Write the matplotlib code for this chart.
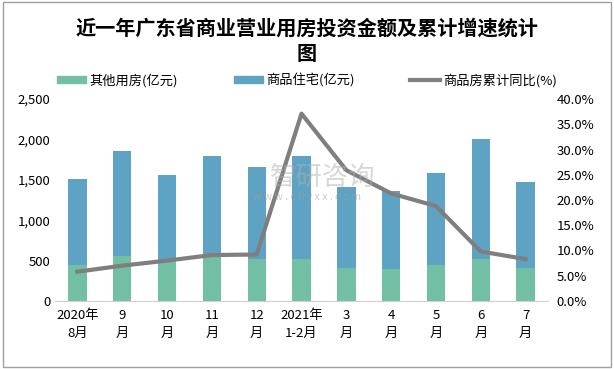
import matplotlib.pyplot as plt
import numpy as np
from matplotlib.patches import Rectangle
from matplotlib.lines import Line2D
from matplotlib.ticker import FuncFormatter

plt.rcParams['font.family'] = ['Noto Sans CJK SC', 'DejaVu Sans']

months = ['2020年\n8月', '9\n月', '10\n月', '11\n月', '12\n月', '2021年\n1-2月',
          '3\n月', '4\n月', '5\n月', '6\n月', '7\n月']
other = [445, 557, 505, 560, 520, 516, 405, 392, 442, 516, 408]
total = [1510, 1856, 1559, 1791, 1658, 1794, 1407, 1361, 1580, 2005, 1473]
residential = [t - o for t, o in zip(total, other)]
growth = [5.8, 7.0, 8.0, 9.1, 9.2, 37.1, 25.9, 21.3, 18.8, 9.8, 8.3]

green = '#73bfa3'
blue = '#5fa3c4'
grey = '#7f7f7f'

fig = plt.figure(figsize=(6.14, 3.69), dpi=100)
ax = fig.add_axes([0.0896, 0.1843, 0.8029, 0.5474])
x = np.arange(len(months))
ax.bar(x, other, width=0.41, color=green)
ax.bar(x, residential, bottom=other, width=0.41, color=blue)
ax.set_ylim(0, 2500)
ax.set_xlim(-0.5, len(months) - 0.5)
ax.set_yticks(range(0, 2501, 500))
ax.yaxis.set_major_formatter(FuncFormatter(lambda v, p: f'{int(v):,}'))
ax.set_xticks(x)
ax.set_xticklabels(months, fontsize=9.5, linespacing=1.5)
ax.tick_params(axis='both', length=0, labelsize=9.5)
ax.tick_params(axis='x', pad=6)
for s in ['top', 'left', 'right']:
    ax.spines[s].set_visible(False)
ax.spines['bottom'].set_color('#d0d0d0')

ax2 = ax.twinx()
ax2.plot(x, growth, color=grey, lw=3)
ax2.set_ylim(0, 40)
ax2.set_yticks(range(0, 41, 5))
ax2.yaxis.set_major_formatter(FuncFormatter(lambda v, p: f'{v:.1f}%'))
ax2.tick_params(axis='y', length=0, labelsize=9.5, pad=6)
for s in ['top', 'left', 'right', 'bottom']:
    ax2.spines[s].set_visible(False)

# watermark
fig.text(0.526, 0.518, '智研咨询', fontsize=19, color='#b0b0b0', alpha=0.5,
         ha='center', va='center')
fig.text(0.50, 0.466, 'w w w . c h y x x . c o m', fontsize=7.5, color='#a0a0a0',
         alpha=0.55, ha='center', va='center')

fig.text(0.5, 0.89, '近一年广东省商业营业用房投资金额及累计增速统计\n图', fontsize=14.5,
         fontweight='bold', ha='center', va='center', linespacing=1.25)

handles = [Rectangle((0, 0), 1, 1, color=green),
           Rectangle((0, 0), 1, 1, color=blue),
           Line2D([], [], color=grey, lw=3)]
fig.legend(handles, ['其他用房(亿元)', '商品住宅(亿元)', '商品房累计同比(%)'],
           loc='center', bbox_to_anchor=(0.5, 0.783), ncol=3, frameon=False,
           fontsize=9.5, columnspacing=4.2, handlelength=2.2, handleheight=0.5,
           handletextpad=0.3)

fig.patches.append(Rectangle((0.005, 0.005), 0.99, 0.99, transform=fig.transFigure,
                             fill=False, edgecolor='#a0a0a0', lw=1))

fig.savefig('out.png', dpi=100)
